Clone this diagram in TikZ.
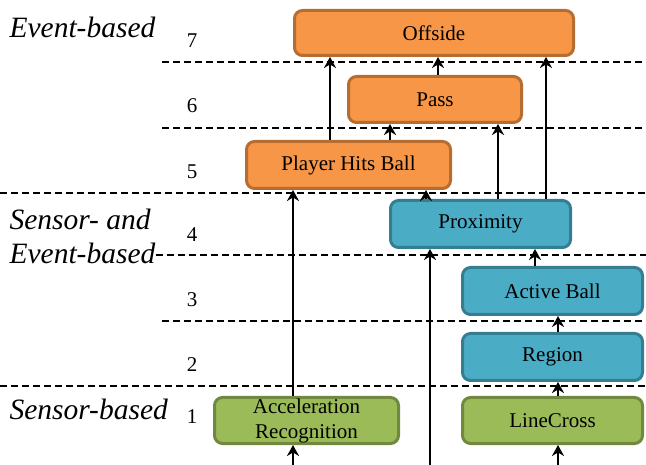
\documentclass[tikz,border=0pt]{standalone}
\usepackage{fontspec}
\setmainfont{Liberation Serif}
\usetikzlibrary{arrows.meta}
\definecolor{evfill}{HTML}{F79646}
\definecolor{evline}{HTML}{B66D31}
\definecolor{sefill}{HTML}{4BACC6}
\definecolor{seline}{HTML}{357D91}
\definecolor{snfill}{HTML}{9BBB59}
\definecolor{snline}{HTML}{71893F}
\begin{document}
\begin{tikzpicture}[x=1pt,y=-1pt,
  box/.style={rounded corners=8pt, line width=3pt, inner sep=0pt,
    font=\fontsize{21}{25}\selectfont, align=center},
  evbox/.style={box, fill=evfill, draw=evline},
  sebox/.style={box, fill=sefill, draw=seline},
  snbox/.style={box, fill=snfill, draw=snline},
  layer/.style={dash pattern=on 7pt off 4pt, line width=1.5pt},
  arr/.style={line width=2.2pt, -{Stealth[length=11pt,width=12pt,inset=3.5pt]}},
  lvl/.style={anchor=base, font=\fontsize{21}{24}\selectfont},
  cat/.style={anchor=base west, font=\fontsize{29.5}{33}\selectfont\itshape}]
\useasboundingbox (0,0) rectangle (646,465);

% layer separators
\draw[layer] (162,62) -- (646,62);
\draw[layer] (162,128) -- (646,128);
\draw[layer] (0,193) -- (646,193);
\draw[layer] (156,255) -- (646,255);
\draw[layer] (162,321) -- (646,321);
\draw[layer] (0,386) -- (646,386);

% level numbers
\node[lvl] (n7) at (192,48) {7};
\node[lvl] (n6) at (192,113) {6};
\node[lvl] (n5) at (192,179) {5};
\node[lvl] (n4) at (192,242) {4};
\node[lvl] (n3) at (192,307) {3};
\node[lvl] (n2) at (192,372) {2};
\node[lvl] (n1) at (192,423) {1};

% categories
\node[cat] (cev) at (6,38) {Event-based};
\node[cat] (cse1) at (6,230) {Sensor- and};
\node[cat] (cse2) at (6,264) {Event-based};
\node[cat] (csn) at (6,420) {Sensor-based};

% event-based nodes
\node[evbox, minimum width=279pt, minimum height=45pt] (offside) at (434,33) {Offside};
\node[evbox, minimum width=173pt, minimum height=46pt] (pass) at (435,99.5) {Pass};
\node[evbox, minimum width=204pt, minimum height=47pt] (phb) at (348.5,165) {Player Hits Ball};

% sensor- and event-based nodes
\node[sebox, minimum width=180pt, minimum height=47pt] (prox) at (480.5,224) {Proximity};
\node[sebox, minimum width=180pt, minimum height=47pt] (active) at (552.5,291) {Active Ball};
\node[sebox, minimum width=180pt, minimum height=47pt] (region) at (552.5,357) {Region};

% sensor-based nodes
\node[snbox, minimum width=184pt, minimum height=46pt] (acc) at (306.5,420.5) {Acceleration\\Recognition};
\node[snbox, minimum width=180pt, minimum height=46pt] (line) at (552.5,420.5) {LineCross};

% connector columns and free ends
\coordinate (xa) at (293,0);
\coordinate (xb) at (330,0);
\coordinate (xc) at (390,0);
\coordinate (xd) at (426,0);
\coordinate (xf) at (438,0);
\coordinate (xg) at (498,0);
\coordinate (xh) at (535,0);
\coordinate (xi) at (546,0);
\coordinate (xj) at (558,0);
\coordinate (inacc) at (293,465);
\coordinate (inprox) at (430,465);
\coordinate (inline) at (558,465);

% connectors
\draw[arr] (inacc) -- (acc.south -| inacc);
\draw[arr] (inprox) -- (prox.south -| inprox);
\draw[arr] (inline) -- (line.south -| inline);
\draw[arr] (acc.north -| xa) -- (phb.south -| xa);
\draw[arr] (line.north -| xj) -- (region.south -| xj);
\draw[arr] (region.north -| xj) -- (active.south -| xj);
\draw[arr] (active.north -| xh) -- (prox.south -| xh);
\draw[arr] (prox.north -| xd) -- (phb.south -| xd);
\draw[arr] (prox.north -| xg) -- (pass.south -| xg);
\draw[arr] (prox.north -| xi) -- (offside.south -| xi);
\draw[arr] (phb.north -| xc) -- (pass.south -| xc);
\draw[arr] (phb.north -| xb) -- (offside.south -| xb);
\draw[arr] (pass.north -| xf) -- (offside.south -| xf);
\end{tikzpicture}
\end{document}
